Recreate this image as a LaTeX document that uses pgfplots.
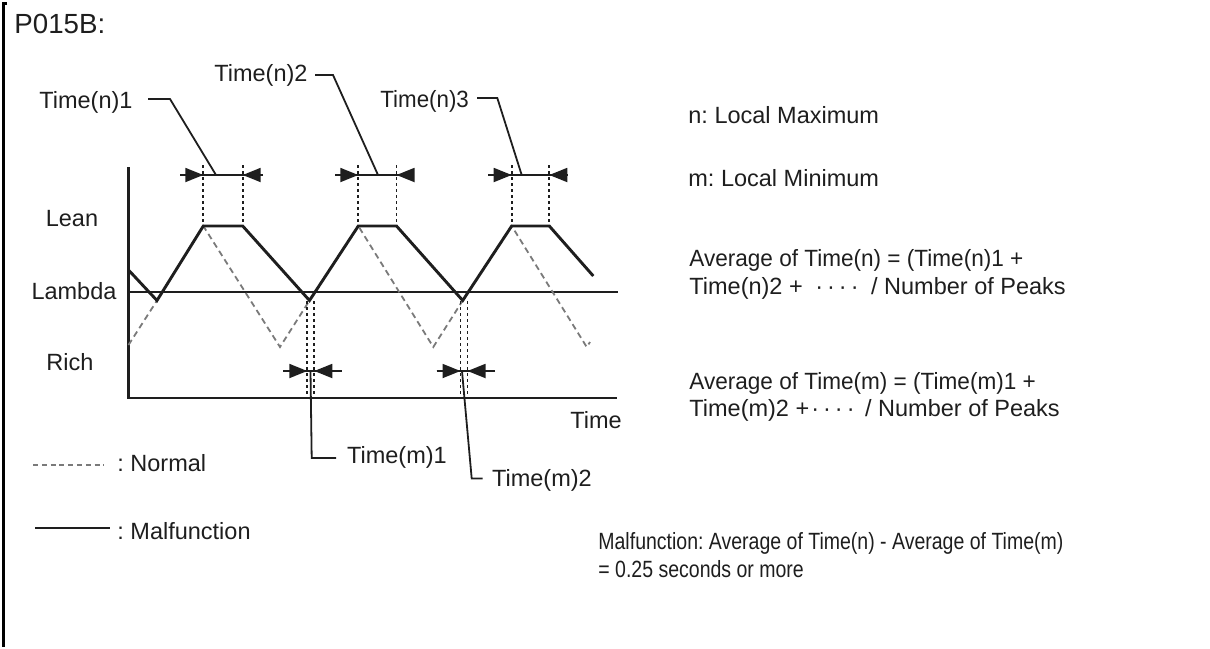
\documentclass[border=0pt]{standalone}
\usepackage{pgfplots}
\pgfplotsset{compat=1.18}
\usepackage{fontspec}
\setmainfont{Liberation Sans}
\usetikzlibrary{arrows.meta}
\definecolor{ink}{HTML}{1E1E1E}
\definecolor{normalgray}{HTML}{7A7A7A}
\frenchspacing

\begin{document}
\begin{tikzpicture}[
  lbl/.style={inner sep=0pt, anchor=west, text=ink, font=\fontsize{11.75}{14}\selectfont},
  mid/.style={inner sep=0pt, anchor=center, text=ink, font=\fontsize{11.75}{14}\selectfont},
  span/.style={ink, line width=0.9pt},
  tip/.style={ink, line width=0.9pt, -{Triangle[length=9pt,width=7pt]}}
]
\begin{axis}[
  scale only axis,
  width=605pt, height=323.5pt,
  xmin=0, xmax=1210, ymin=0, ymax=647,
  y dir=reverse,
  hide axis,
  clip=false
]
\path (axis cs:0,0) rectangle (axis cs:1210,647);

% frame on the left
\addplot[black, line width=1.5pt] coordinates {(7,3.5) (4,3.5) (4,647)};

% axes and lambda line
\addplot[ink, line width=1.25pt] coordinates {(128.5,167) (128.5,398) (617,398)};
\addplot[ink, line width=1.25pt] coordinates {(128.5,292) (617.5,292)};

% normal signal
\addplot[normalgray, line width=0.9pt, dash pattern=on 3pt off 2pt] coordinates {
  (128.5,345) (157,300.5) (203.3,226) (280,347) (309.5,300.5) (358.3,226)
  (433.3,347) (462.7,300.5) (511.7,226) (586.7,347) (590,342)
};

% dotted guides at the peaks
\foreach \xx in {203.3,242.7,358.3,396.5,511.7,549.3} {
  \edef\tmp{\noexpand\addplot[ink, line width=0.95pt, dash pattern=on 1.6pt off 1.4pt]
    coordinates {(\xx,165) (\xx,226)};}
  \tmp
}
% dotted guides at the minima
\foreach \xx in {307.3,314.3,460.5,467.5} {
  \edef\tmp{\noexpand\addplot[ink, line width=0.95pt, dash pattern=on 1.6pt off 1.4pt]
    coordinates {(\xx,301) (\xx,398)};}
  \tmp
}

% malfunction signal
\addplot[ink, line width=1.45pt] coordinates {
  (128.5,270) (157,300.5) (203.3,226) (242.7,226) (309.5,300.5) (358.3,226)
  (396.5,226) (462.7,300.5) (511.7,226) (549.3,226) (593.3,276)
};

% time spans at the peaks
\draw[span] (axis cs:180,175) -- (axis cs:263,175);
\draw[tip] (axis cs:180,175) -- (axis cs:203.3,175);
\draw[tip] (axis cs:263,175) -- (axis cs:242.7,175);
\draw[span] (axis cs:335,175) -- (axis cs:413.3,175);
\draw[tip] (axis cs:335,175) -- (axis cs:358.3,175);
\draw[tip] (axis cs:413.3,175) -- (axis cs:396.5,175);
\draw[span] (axis cs:488.3,175) -- (axis cs:567.3,175);
\draw[tip] (axis cs:488.3,175) -- (axis cs:511.7,175);
\draw[tip] (axis cs:567.3,175) -- (axis cs:549.3,175);

% time spans at the minima
\draw[span] (axis cs:283.3,371) -- (axis cs:341.7,371);
\draw[tip] (axis cs:283.3,371) -- (axis cs:307.3,371);
\draw[tip] (axis cs:341.7,371) -- (axis cs:314.3,371);
\draw[span] (axis cs:436.5,371) -- (axis cs:495,371);
\draw[tip] (axis cs:436.5,371) -- (axis cs:460.5,371);
\draw[tip] (axis cs:495,371) -- (axis cs:467.5,371);

% leaders
\addplot[ink, line width=0.9pt] coordinates {(148,99) (170,99) (216,175)};
\addplot[ink, line width=0.9pt] coordinates {(315,75) (333,75) (378,175)};
\addplot[ink, line width=0.9pt] coordinates {(477,98) (497.3,98) (521.7,175)};
\addplot[ink, line width=0.9pt] coordinates {(310.5,371) (311.7,458) (336,458)};
\addplot[ink, line width=0.9pt] coordinates {(462,371) (471.7,478.5) (482.7,478.5)};

% legend samples
\addplot[normalgray, line width=0.9pt, dash pattern=on 2.5pt off 1.9pt] coordinates {(33,465) (104,465)};
\addplot[ink, line width=1.25pt] coordinates {(35,528) (110,528)};

% texts
\node[inner sep=0pt, anchor=west, text=ink, font=\fontsize{13.85}{16}\selectfont] at (axis cs:14,24) {P015B:};
\node[lbl] at (axis cs:39,102) {Time(n)1};
\node[lbl] at (axis cs:214,75) {Time(n)2};
\node[lbl] at (axis cs:380,101) {\scalebox{0.95}[1]{Time(n)3}};
\node[mid] at (axis cs:72,219) {Lean};
\node[mid] at (axis cs:74,291) {Lambda};
\node[mid] at (axis cs:70,362) {Rich};
\node[lbl] at (axis cs:570,420) {Time};
\node[lbl] at (axis cs:346.7,457) {Time(m)1};
\node[lbl] at (axis cs:491.7,480) {Time(m)2};
\node[lbl] at (axis cs:117,463) {: Normal};
\node[lbl] at (axis cs:117,531) {: Malfunction};

\node[lbl] at (axis cs:688,115) {n: Local Maximum};
\node[lbl] at (axis cs:688,178) {m: Local Minimum};
\node[lbl] at (axis cs:689,260) {\scalebox{0.96}[1]{Average of Time(n) = (Time(n)1 +}};
\node[lbl] at (axis cs:689,288) {Time(n)2 + \hspace{3pt}·\hspace{2pt}·\hspace{2pt}·\hspace{2pt}·\hspace{3pt} / Number of Peaks};
\node[lbl] at (axis cs:689,383) {\scalebox{0.96}[1]{Average of Time(m) = (Time(m)1 +}};
\node[lbl] at (axis cs:689,410) {Time(m)2 +\hspace{1pt}·\hspace{2pt}·\hspace{2pt}·\hspace{2pt}·\hspace{2pt} / Number of Peaks};
\node[lbl] at (axis cs:598,543) {\scalebox{0.83}[1]{Malfunction: Average of Time(n) - Average of Time(m)}};
\node[lbl] at (axis cs:598,569) {\scalebox{0.83}[1]{= 0.25 seconds or more}};
\end{axis}
\end{tikzpicture}
\end{document}
